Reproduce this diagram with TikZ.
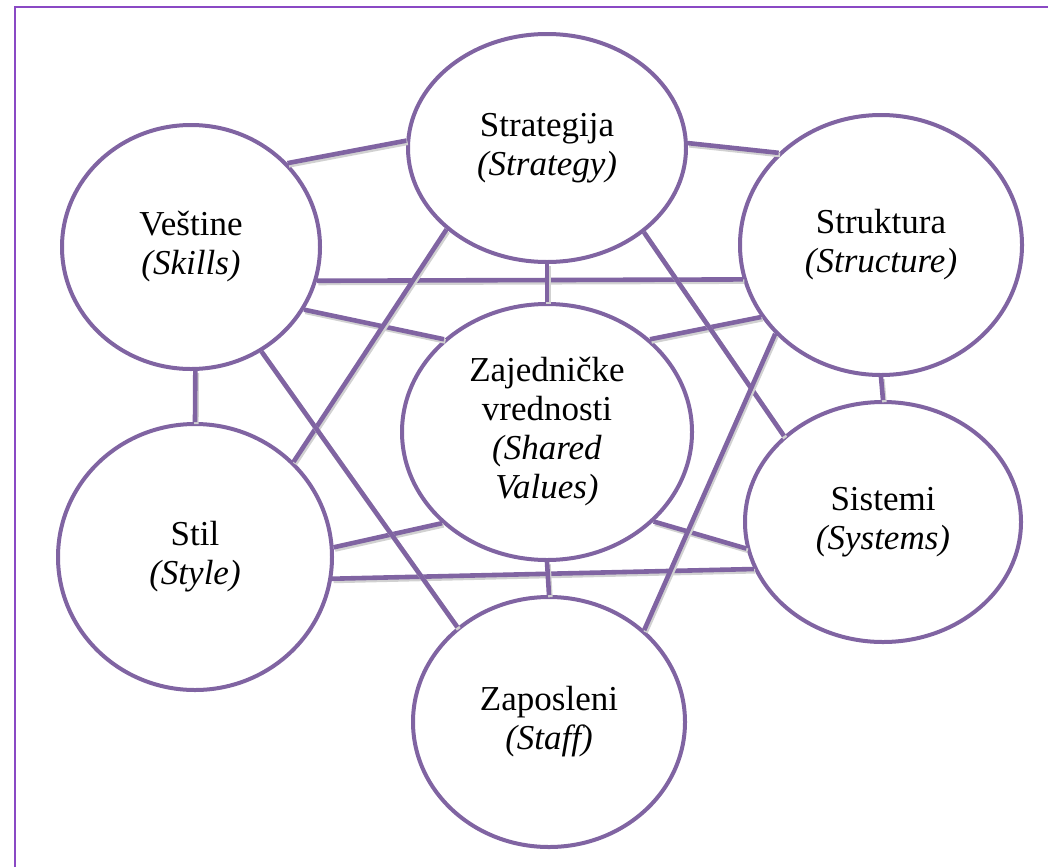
\documentclass[tikz,border=0pt]{standalone}
\usepackage{fontspec}
\setmainfont{Liberation Serif}
\usetikzlibrary{shapes.geometric}
\definecolor{lilac}{HTML}{8064A2}
\definecolor{framepurple}{HTML}{8A49C4}
\tikzset{
  element/.style = {shape=ellipse, draw=lilac, line width=2pt,
                    fill=white, inner sep=0pt, align=center,
                    font=\fontsize{17.5}{19.5}\selectfont},
  link/.style    = {draw=lilac, line width=2.3pt,
                    preaction={draw=black!18, line width=2.3pt,
                               transform canvas={shift={(0.7pt,-1.1pt)}}}},
  frame/.style   = {draw=framepurple, line width=1pt}
}
\begin{document}
\begin{tikzpicture}[x=0.5pt, y=-0.5pt]
  \useasboundingbox (0,0) rectangle (1048,867);
  \draw[frame] (15,867) |- (1048,7);

  % the seven elements
  \node[element, minimum width=139pt, minimum height=114pt] (strat)  at (547,148) {Strategija\\\textit{(Strategy)}};
  \node[element, minimum width=129pt, minimum height=122pt] (vest)   at (191,247) {Veštine\\\textit{(Skills)}};
  \node[element, minimum width=141pt, minimum height=130pt] (strukt) at (881,245) {Struktura\\\textit{(Structure)}};
  \node[element, minimum width=145pt, minimum height=128pt] (zaj)    at (547,432) {Zajedničke\\vrednosti\\\textit{(Shared}\\\textit{Values)}};
  \node[element, minimum width=137pt, minimum height=133pt] (stil)   at (195,557) {Stil\\\textit{(Style)}};
  \node[element, minimum width=138pt, minimum height=120pt] (sist)   at (883,522) {Sistemi\\\textit{(Systems)}};
  \node[element, minimum width=136pt, minimum height=125pt] (zap)    at (549,722) {Zaposleni\\\textit{(Staff)}};

  % links
  \draw[link] (vest.41)    -- (strat.177);
  \draw[link] (strat.2)    -- (strukt.138);
  \draw[link] (vest.-15)   -- (strukt.194);
  \draw[link] (vest.-29)   -- (zaj.138);
  \draw[link] (strukt.211) -- (zaj.42);
  \draw[link] (stil.-9)    -- (sist.200);
  \draw[link] (stil.4)     -- (zaj.-139);
  \draw[link] (sist.191)   -- (zaj.-40);
  \draw[link] (vest.-88)   -- (stil.90);
  \draw[link] (strukt.-90) -- (sist.90);
  \draw[link] (strat.south) -- (zaj.north);
  \draw[link] (zaj.south)  -- (zap.north);
  \draw[link] (strat.-141) -- (stil.44);
  \draw[link] (strat.-41)  -- (sist.139);
  \draw[link] (vest.-56)   -- (zap.134);
  \draw[link] (strukt.-140) -- (zap.44);
\end{tikzpicture}
\end{document}
